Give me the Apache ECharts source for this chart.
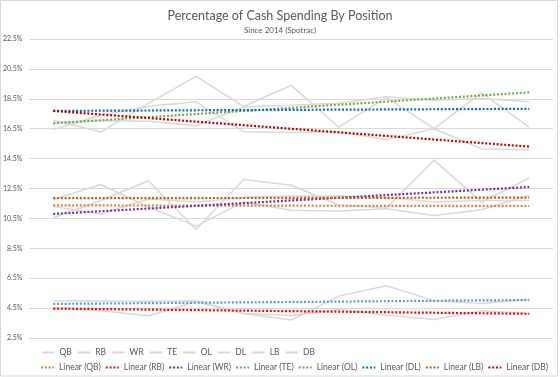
<!DOCTYPE html>
<html><head><meta charset="utf-8">
<script src="https://cdn.jsdelivr.net/npm/echarts@6/dist/echarts.min.js"></script>
<style>html,body{margin:0;padding:0;background:#fff}#c{width:560px;height:377px}</style>
</head><body><div id="c"></div>
<script>
// ---- data ----
const years = ['2014','2015','2016','2017','2018','2019','2020','2021','2022','2023','2024'];
const positions = ['QB','RB','WR','TE','OL','DL','LB','DB'];
const QB = [11.76, 12.77, 11.26, 9.98, 11.6, 11.04, 11.0, 11.15, 10.7, 11.08, 12.05];
const RB = [4.5, 4.32, 3.99, 4.93, 4.14, 4.0, 4.4, 4.03, 3.74, 4.32, 4.14];
const WR = [10.54, 11.7, 13.02, 9.76, 13.1, 12.72, 11.4, 11.2, 14.4, 11.6, 13.2];
const TE = [4.99, 4.97, 4.95, 4.99, 4.14, 3.7, 5.3, 6.0, 5.0, 4.8, 5.1];
const OL = [16.9, 17.05, 17.0, 16.7, 17.96, 18.07, 18.2, 18.63, 18.41, 18.52, 18.3];
const DL = [17.06, 16.28, 18.2, 20.0, 18.0, 19.4, 16.6, 18.6, 16.5, 18.9, 16.6];
const LB = [11.3, 10.8, 11.8, 11.6, 11.9, 12.0, 12.0, 11.9, 11.6, 11.7, 11.7];
const DB = [16.45, 17.4, 18.0, 18.3, 16.3, 16.25, 16.3, 15.77, 16.5, 15.15, 15.1];
// linear trendline values at first and last year
const trendStart = [11.37, 4.47, 10.8, 4.78, 16.86, 17.69, 11.85, 17.69];
const trendEnd   = [11.33, 4.12, 12.6, 5.04, 18.93, 17.83, 11.89, 15.3];
const yTickLabels = ['2.5%','4.5%','6.5%','8.5%','10.5%','12.5%','14.5%','16.5%','18.5%','20.5%','22.5%'];

// ---- styles ----
const seriesValues = [QB, RB, WR, TE, OL, DL, LB, DB];
const trendColors = ['#ED7D31','#FF0000','#7030A0','#5B9BD5','#70AD47','#0070C0','#C55A11','#C00000'];
const FONT = 'Lato, "Open Sans", sans-serif';
const TXT = '#595959';
const GRAY = '#d9d9d9';

const series = [];
positions.forEach((p, k) => {
  series.push({
    name: p, type: 'line', yAxisIndex: 0, data: seriesValues[k],
    symbol: 'none', silent: true, z: 2,
    lineStyle: { color: GRAY, width: 1.5 }, itemStyle: { color: GRAY }
  });
});
positions.forEach((p, k) => {
  const d = years.map((y, i) => i === 0 ? trendStart[k] : (i === years.length - 1 ? trendEnd[k] : null));
  series.push({
    name: 'Linear (' + p + ')', type: 'line', yAxisIndex: 0, data: d, connectNulls: true,
    symbol: 'none', silent: true, z: 3,
    lineStyle: { color: trendColors[k], width: 2.2, type: [2, 1.8], cap: 'butt' },
    itemStyle: { color: trendColors[k] }
  });
});

const legendItem = { color: 'rgba(0,0,0,0)', borderWidth: 0, borderColor: 'rgba(0,0,0,0)' };

const chart = echarts.init(document.getElementById('c'), null, { renderer: 'canvas' });
chart.setOption({
  animation: false,
  backgroundColor: '#fff',
  graphic: [{ type: 'rect', shape: { x: 0.5, y: 0.5, width: 557, height: 375.5 },
    style: { fill: 'none', stroke: '#d9d9d9', lineWidth: 1 }, silent: true }],
  title: [
    { text: 'Percentage of Cash Spending By Position', left: 'center', top: 4,
      textStyle: { fontFamily: FONT, fontSize: 12.5, fontWeight: 'normal', color: TXT } },
    { text: 'Since 2014 (Spotrac)', left: 'center', top: 21,
      textStyle: { fontFamily: FONT, fontSize: 8, fontWeight: 'normal', color: TXT } }
  ],
  grid: { left: 29, right: 7, top: 39, bottom: 39 },
  xAxis: { type: 'category', data: years, boundaryGap: true, show: false },
  yAxis: [
    { type: 'value', min: 2.5, max: 22.5, show: false },
    { type: 'category', data: yTickLabels, boundaryGap: false, position: 'left',
      axisLine: { show: false }, axisTick: { show: false },
      splitLine: { show: true, lineStyle: { color: GRAY, width: 1 } },
      axisLabel: { interval: 0, color: TXT, fontSize: 7, fontFamily: FONT, margin: 7 } }
  ],
  legend: [
    { data: positions, left: 41, top: 348, padding: 0, itemWidth: 12.5, itemHeight: 10, itemGap: 5,
      itemStyle: legendItem,
      textStyle: { fontFamily: FONT, fontSize: 8.5, color: TXT, width: 38 } },
    { data: positions.map(p => 'Linear (' + p + ')'), left: 40, top: 363, padding: 0,
      itemWidth: 13, itemHeight: 10, itemGap: 4, itemStyle: legendItem,
      textStyle: { fontFamily: FONT, fontSize: 8.5, color: TXT, width: 39 } }
  ],
  series: series
});
</script></body></html>
